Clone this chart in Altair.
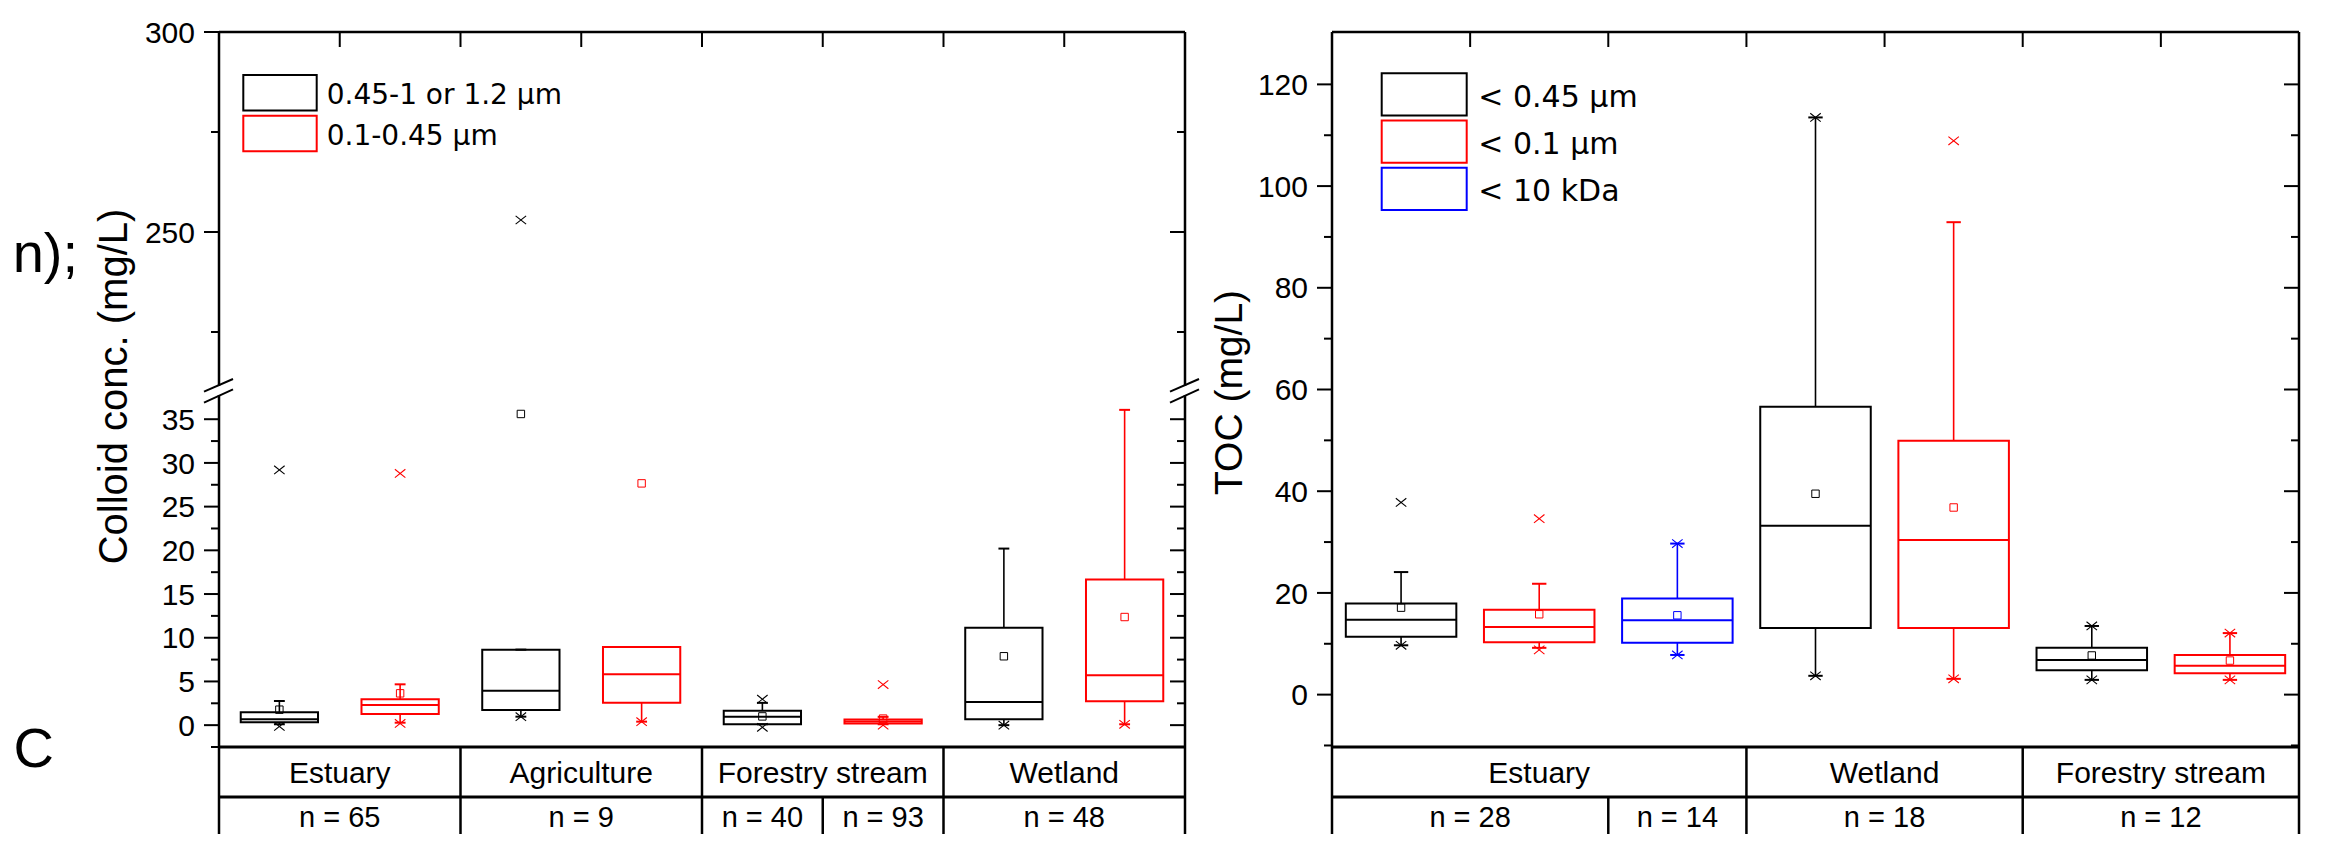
import altair as alt
import pandas as pd

FONT = "Liberation Sans"
LEG_FONT = "DejaVu Sans"

# ---------------- data ----------------
# Left panel: colloid concentration (mg/L)
L_SITES = ["Estuary", "Estuary", "Agriculture", "Agriculture",
           "Forestry stream", "Forestry stream", "Wetland", "Wetland"]
L_FRACS = ["0.45-1 or 1.2 µm", "0.1-0.45 µm"] * 4
L_N = ["n = 65", "n = 65", "n = 9", "n = 9", "n = 40", "n = 93", "n = 48", "n = 48"]
L_Q1 = [0.33, 1.28, 1.73, 2.55, 0.11, 0.20, 0.68, 2.74]
L_Q3 = [1.47, 2.96, 8.64, 8.94, 1.64, 0.66, 11.15, 16.67]
L_MED = [0.67, 2.30, 3.94, 5.82, 0.95, 0.42, 2.66, 5.71]
L_MEAN = [1.77, 3.64, 35.6, 27.66, 1.0, 0.75, 7.88, 12.37]
L_WLO = [0.10, 0.28, 0.97, 0.40, 0.10, 0.10, 0.0, 0.10]
L_WHI = [2.76, 4.67, 8.64, 8.94, 2.55, 0.95, 20.2, 36.07]
L_MIN = [-0.15, 0.20, 0.97, 0.40, -0.25, 0.0, 0.0, 0.10]
L_MAX = [29.2, 28.8, 253.0, None, 2.97, 4.64, None, None]
L_LEGEND = ["0.45-1 or 1.2 µm", "0.1-0.45 µm"]
L_COLORS = ["#000000", "#ff0000"]
L_TICKS_LO = [0, 5, 10, 15, 20, 25, 30, 35]
L_MINOR_LO = [-2.5, 2.5, 7.5, 12.5, 17.5, 22.5, 27.5, 32.5]
L_TICKS_UP = [250, 300]
L_MINOR_UP = [225, 275]
L_TITLE = "Colloid conc. (mg/L)"

# Right panel: TOC (mg/L)
R_SITES = ["Estuary", "Estuary", "Estuary", "Wetland", "Wetland",
           "Forestry stream", "Forestry stream"]
R_FRACS = ["< 0.45 µm", "< 0.1 µm", "< 10 kDa", "< 0.45 µm", "< 0.1 µm",
           "< 0.45 µm", "< 0.1 µm"]
R_N = ["n = 28", "n = 28", "n = 14", "n = 18", "n = 18", "n = 12", "n = 12"]
R_Q1 = [11.4, 10.3, 10.2, 13.1, 13.1, 4.8, 4.2]
R_Q3 = [17.9, 16.7, 18.9, 56.6, 49.9, 9.2, 7.8]
R_MED = [14.7, 13.3, 14.6, 33.2, 30.4, 6.8, 5.7]
R_MEAN = [17.1, 15.8, 15.6, 39.5, 36.8, 7.7, 6.7]
R_WLO = [9.7, 9.2, 7.8, 3.7, 3.1, 2.9, 2.9]
R_WHI = [24.1, 21.8, 29.7, 113.5, 92.9, 13.5, 12.1]
R_MIN = [9.7, 8.8, 7.8, 3.7, 3.1, 2.9, 2.9]
R_MAX = [37.8, 34.6, 29.7, 113.5, 108.9, 13.5, 12.1]
R_LEGEND = ["< 0.45 µm", "< 0.1 µm", "< 10 kDa"]
R_COLORS = ["#000000", "#ff0000", "#0000ff"]
R_TICKS = [0, 20, 40, 60, 80, 100, 120]
R_MINOR = [-10, 10, 30, 50, 70, 90, 110]
R_TITLE = "TOC (mg/L)"

FRAGMENTS = ["n);", "C"]  # cropped text of the surrounding page

# ---------------- layout (view pixels) ----------------
W, H = 2310, 826
LX = [211, 1177]
RX = [1324, 2291]
PLOT_BOTTOM, ROW_SPLIT = 739, 789
L_UP = ([211.5, 300], [378, 24])
L_LO = ([-2.5, 37.77], [739, 387])
R_Y = ([-10.3, 130.3], [739, 24])


def xs(rng, n):
    return alt.Scale(domain=[0, n], range=rng, nice=False, zero=False)


def ys(seg):
    return alt.Scale(domain=seg[0], range=seg[1], nice=False, zero=False)


def X(f, s):
    return alt.X(f"{f}:Q", scale=s, axis=None)


def Y(f, s):
    return alt.Y(f"{f}:Q", scale=s, axis=None)


STROKE = alt.Stroke("color:N", scale=None)
XMARK = "M-1,-0.8L1,0.8M-1,0.8L1,-0.8"


def box_df(fracs, legend, colors, q1, q3, med, mean, wlo, whi, mn, mx):
    cmap = dict(zip(legend, colors))
    return pd.DataFrame({
        "slot": list(range(len(fracs))), "frac": fracs,
        "color": [cmap[f] for f in fracs],
        "q1": q1, "q3": q3, "med": med, "mean": mean,
        "wlo": wlo, "whi": whi, "mn": mn, "mx": mx,
    })


def box_layers(df, sx, sy, seg, hw, cw, full=True):
    lo, hi = seg[0]
    base = alt.Chart(df).transform_calculate(
        c="datum.slot + 0.5",
        xl=f"datum.slot + 0.5 - {hw}", xr=f"datum.slot + 0.5 + {hw}",
        cl=f"datum.slot + 0.5 - {cw}", cr=f"datum.slot + 0.5 + {cw}",
    )

    def inr(f):
        return f"isValid(datum.{f}) && datum.{f} >= {lo} && datum.{f} <= {hi}"

    out = []
    if full:
        out.append(base.mark_rule(strokeWidth=1.6).encode(
            x=X("c", sx), y=Y("wlo", sy), y2=alt.Y2("whi"), stroke=STROKE))
        out.append(base.mark_rect(fill="white", strokeWidth=2).encode(
            x=X("xl", sx), x2=alt.X2("xr"), y=Y("q1", sy), y2=alt.Y2("q3"), stroke=STROKE))
        out.append(base.mark_rule(strokeWidth=2).encode(
            x=X("xl", sx), x2=alt.X2("xr"), y=Y("med", sy), stroke=STROKE))
        for f in ["whi", "wlo"]:
            out.append(base.mark_rule(strokeWidth=2).encode(
                x=X("cl", sx), x2=alt.X2("cr"), y=Y(f, sy), stroke=STROKE))
    out.append(base.transform_filter(inr("mean")).mark_point(
        shape="square", size=55, filled=False, strokeWidth=1, opacity=1).encode(
        x=X("c", sx), y=Y("mean", sy), stroke=STROKE))
    for f in ["mx", "mn"]:
        out.append(base.transform_filter(inr(f)).mark_point(
            shape=XMARK, size=110, filled=False, strokeWidth=1.1, opacity=1).encode(
            x=X("c", sx), y=Y(f, sy), stroke=STROKE))
    return out


def tick_layers(sx, sy, n, majors, minors, labels=True):
    out = []
    for vals, ln in [(majors, 15), (minors, 8)]:
        df = pd.DataFrame([(e, v) for e in [0, n] for v in vals], columns=["e", "v"])
        out.append(alt.Chart(df).mark_rule(strokeWidth=2, color="black", x2Offset=-ln).encode(
            x=X("e", sx), x2=alt.X2("e"), y=Y("v", sy)))
    if labels:
        df = pd.DataFrame({"e": [0] * len(majors), "v": majors,
                           "lab": [str(v) for v in majors]})
        out.append(alt.Chart(df).mark_text(
            align="right", baseline="alphabetic", dx=-24, dy=10.7,
            fontSize=30, font=FONT, color="black").encode(
            x=X("e", sx), y=Y("v", sy), text="lab:N"))
    return out


def frame_segment(sx, sy, seg, n):
    df = pd.DataFrame({"e": [0, n], "a": [seg[0][0]] * 2, "b": [seg[0][1]] * 2})
    return alt.Chart(df).mark_rule(strokeWidth=2.5, color="black").encode(
        x=X("e", sx), y=Y("a", sy), y2=alt.Y2("b"))


def hline(sx, sy, n, value):
    df = pd.DataFrame({"a": [0], "b": [n], "v": [value]})
    return alt.Chart(df).mark_rule(strokeWidth=2.5, color="black").encode(
        x=X("a", sx), x2=alt.X2("b"), y=Y("v", sy))


def top_ticks(sx, sy, n, top):
    df = pd.DataFrame({"b": list(range(1, n)), "v": [top] * (n - 1)})
    return alt.Chart(df).mark_rule(strokeWidth=2, color="black", y2Offset=15).encode(
        x=X("b", sx), y=Y("v", sy), y2=alt.Y2("v"))


def runs(labels):
    res = []
    start = 0
    for i in range(1, len(labels) + 1):
        if i == len(labels) or labels[i] != labels[start]:
            res.append((labels[start], start, i))
            start = i
    return res


def table_layers(sx, n, sites, ns):
    out = []
    df_h = pd.DataFrame({"a": [0, 0], "b": [n, n], "row": [0, 1]})
    rs = alt.Scale(domain=[0, 1], range=[PLOT_BOTTOM, ROW_SPLIT])
    out.append(alt.Chart(df_h).mark_rule(strokeWidth=3, color="black").encode(
        x=X("a", sx), x2=alt.X2("b"), y=alt.Y("row:Q", scale=rs, axis=None)))
    df_o = pd.DataFrame({"e": [0, n]})
    out.append(alt.Chart(df_o).mark_rule(strokeWidth=2.5, color="black").encode(
        x=X("e", sx), y=alt.value(PLOT_BOTTOM), y2=alt.value(H)))
    cat = runs(sites)
    nr = runs(ns)
    df_s1 = pd.DataFrame({"e": [r[1] for r in cat[1:]]})
    out.append(alt.Chart(df_s1).mark_rule(strokeWidth=2.5, color="black").encode(
        x=X("e", sx), y=alt.value(PLOT_BOTTOM), y2=alt.value(ROW_SPLIT)))
    df_s2 = pd.DataFrame({"e": [r[1] for r in nr[1:]]})
    out.append(alt.Chart(df_s2).mark_rule(strokeWidth=2.5, color="black").encode(
        x=X("e", sx), y=alt.value(ROW_SPLIT), y2=alt.value(H)))
    df_t1 = pd.DataFrame({"lab": [r[0] for r in cat], "m": [(r[1] + r[2]) / 2 for r in cat]})
    out.append(alt.Chart(df_t1).mark_text(fontSize=30, font=FONT, color="black",
                                          baseline="alphabetic", align="center").encode(
        x=X("m", sx), y=alt.value(774.5), text="lab:N"))
    df_t2 = pd.DataFrame({"lab": [r[0] for r in nr], "m": [(r[1] + r[2]) / 2 for r in nr]})
    out.append(alt.Chart(df_t2).mark_text(fontSize=29, font=FONT, color="black",
                                          baseline="alphabetic", align="center").encode(
        x=X("m", sx), y=alt.value(819), text="lab:N"))
    return out


def legend_layers(labels, colors, x0, x1, tops, box_h, tx, tdy, fs):
    df = pd.DataFrame({"lab": labels, "color": colors, "i": list(range(len(labels)))})
    sc = alt.Scale(domain=[0, len(labels) - 1], range=tops, nice=False, zero=False)
    r = alt.Chart(df).mark_rect(fill="white", strokeWidth=2, y2Offset=box_h).encode(
        x=alt.value(x0), x2=alt.value(x1), y=alt.Y("i:Q", scale=sc, axis=None),
        y2=alt.Y2("i"), stroke=STROKE)
    t = alt.Chart(df).mark_text(align="left", baseline="alphabetic", dy=tdy,
                                fontSize=fs, font=LEG_FONT, color="black").encode(
        x=alt.value(tx), y=alt.Y("i:Q", scale=sc, axis=None), text="lab:N")
    return [r, t]


def break_marks(ax):
    out = []
    for y_left, y_right in [(383.7, 371.0), (394.7, 381.3)]:
        out.append(alt.Chart(pd.DataFrame({"k": [0]})).mark_rule(
            strokeWidth=2, color="black").encode(
            x=alt.value(ax - 15), x2=alt.value(ax + 14),
            y=alt.value(y_left), y2=alt.value(y_right)))
    return out


def title_layer(text, x, y, fs):
    return alt.Chart(pd.DataFrame({"t": [text]})).mark_text(
        angle=270, align="center", baseline="alphabetic", fontSize=fs,
        font=FONT, color="black").encode(x=alt.value(x), y=alt.value(y), text="t:N")


# ---------------- build ----------------
nL, nR = len(L_SITES), len(R_SITES)
sxL, sxR = xs(LX, nL), xs(RX, nR)
syUp, syLo, syR = ys(L_UP), ys(L_LO), ys(R_Y)

dfL = box_df(L_FRACS, L_LEGEND, L_COLORS, L_Q1, L_Q3, L_MED, L_MEAN,
             L_WLO, L_WHI, L_MIN, L_MAX)
dfR = box_df(R_FRACS, R_LEGEND, R_COLORS, R_Q1, R_Q3, R_MED, R_MEAN,
             R_WLO, R_WHI, R_MIN, R_MAX)

layers = []
# left panel frame + ticks
layers.append(frame_segment(sxL, syUp, L_UP, nL))
layers.append(frame_segment(sxL, syLo, L_LO, nL))
layers.append(hline(sxL, syUp, nL, 300))
layers.append(top_ticks(sxL, syUp, nL, 300))
layers += tick_layers(sxL, syUp, nL, L_TICKS_UP, L_MINOR_UP)
layers += tick_layers(sxL, syLo, nL, L_TICKS_LO, L_MINOR_LO)
layers += table_layers(sxL, nL, L_SITES, L_N)
layers += break_marks(LX[0])
layers += break_marks(LX[1])
# left boxes
layers += box_layers(dfL, sxL, syLo, L_LO, 0.32, 0.045, full=True)
layers += box_layers(dfL, sxL, syUp, L_UP, 0.32, 0.045, full=False)

# right panel
layers.append(frame_segment(sxR, syR, R_Y, nR))
layers.append(hline(sxR, syR, nR, R_Y[0][1]))
layers.append(top_ticks(sxR, syR, nR, R_Y[0][1]))
layers += tick_layers(sxR, syR, nR, R_TICKS, R_MINOR)
layers += table_layers(sxR, nR, R_SITES, R_N)
layers += box_layers(dfR, sxR, syR, R_Y, 0.40, 0.052, full=True)

# legends
layers += legend_layers(L_LEGEND, L_COLORS, 235.3, 308.7, [67, 107.7], 35.5, 318.7, 29, 28)
layers += legend_layers(R_LEGEND, R_COLORS, 1373.7, 1458.7, [65.3, 159.7], 42.3, 1470.3, 33.4, 30)

# axis titles
layers.append(title_layer(L_TITLE, 118.7, 378.5, 40))
layers.append(title_layer(R_TITLE, 1234, 384.5, 39))

# text of the surrounding page at the far left (kept fully inside the picture)
frag = pd.DataFrame({"t": FRAGMENTS, "k": [0, 1]})
fsy = alt.Scale(domain=[0, 1], range=[264, 759], nice=False, zero=False)
fsx = alt.Scale(domain=[0, 1], range=[70, 46], nice=False, zero=False)
layers.append(alt.Chart(frag).mark_text(align="right", baseline="alphabetic",
                                        fontSize=56, font=FONT, color="black").encode(
    x=alt.X("k:Q", scale=fsx, axis=None), y=alt.Y("k:Q", scale=fsy, axis=None), text="t:N"))

chart = alt.layer(*layers).resolve_scale(
    x="independent", y="independent"
).properties(
    width=W, height=H, padding=0, autosize=alt.AutoSizeParams(type="none")
).configure_view(stroke=None)

chart.save("out.html", embed_options={"renderer": "svg", "actions": False})
